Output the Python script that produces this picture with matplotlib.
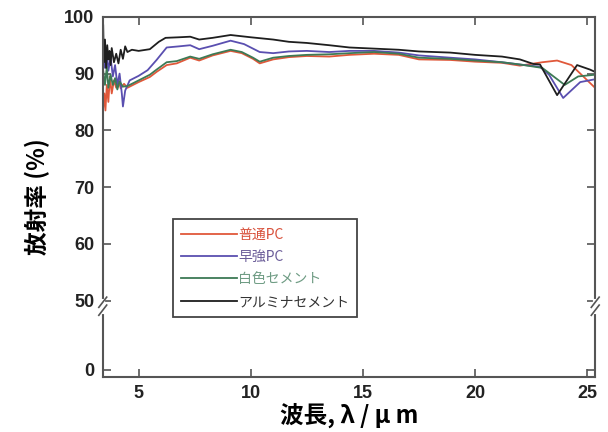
import numpy as np
import matplotlib
matplotlib.use("Agg")
import matplotlib.pyplot as plt
import matplotlib.transforms as mtransforms

plt.rcParams['font.family'] = ['Liberation Sans', 'Noto Sans CJK JP', 'DejaVu Sans']

# Data
series_names = ["普通PC", "早強PC", "白色セメント", "アルミナセメント"]

x_red = [3.42, 3.47, 3.52, 3.58, 3.65, 3.72, 3.8, 3.9, 4.0, 4.1, 4.2, 4.35, 4.5, 4.7,
         5.0, 5.5, 5.8, 6.25, 6.7, 7.3, 7.7, 8.3, 9.1, 9.6, 10.1, 10.4, 11.0, 11.7,
         12.5, 13.5, 14.4, 15.5, 16.6, 17.5, 18.9, 20.0, 21.2, 22.0, 23.0, 23.66,
         24.3, 25.35]
y_red = [84.0, 86.5, 83.5, 88.0, 85.0, 89.5, 86.5, 88.8, 87.5, 88.9, 87.4, 88.2, 87.5, 87.9,
         88.5, 89.4, 90.3, 91.5, 91.8, 92.8, 92.3, 93.2, 94.0, 93.6, 92.6, 91.8, 92.5, 92.9,
         93.1, 93.0, 93.3, 93.5, 93.3, 92.5, 92.4, 92.1, 91.9, 91.4, 92.0, 92.3,
         91.5, 87.5]

x_blue = [3.42, 3.5, 3.58, 3.65, 3.75, 3.85, 3.95, 4.05, 4.15, 4.25, 4.3, 4.4, 4.6,
          5.0, 5.4, 5.8, 6.25, 6.8, 7.3, 7.7, 8.3, 9.1, 9.7, 10.4, 11.0, 11.7,
          12.5, 13.5, 14.4, 15.5, 16.6, 17.5, 18.9, 20.0, 21.2, 22.0, 22.9, 23.3,
          23.93, 24.69, 25.35]
y_blue = [93.5, 91.0, 94.0, 90.5, 92.8, 89.5, 91.5, 88.0, 90.0, 86.5, 84.2, 87.0, 88.8,
          89.6, 90.6, 92.4, 94.6, 94.8, 95.0, 94.3, 94.9, 95.8, 95.2, 93.8, 93.6, 93.9,
          94.0, 93.8, 94.0, 94.0, 93.7, 93.2, 92.8, 92.5, 92.0, 91.6, 91.2, 89.8,
          85.7, 88.5, 89.0]

x_green = [3.42, 3.5, 3.58, 3.65, 3.75, 3.85, 3.95, 4.05, 4.15, 4.3, 4.5, 4.7,
           5.0, 5.5, 5.8, 6.25, 6.7, 7.3, 7.7, 8.3, 9.1, 9.6, 10.1, 10.4, 11.0, 11.7,
           12.5, 13.5, 14.4, 15.5, 16.6, 17.5, 18.9, 20.0, 21.2, 22.0, 23.0, 23.5,
           24.0, 24.6, 25.35]
y_green = [90.5, 88.0, 91.2, 87.5, 89.8, 88.0, 89.2, 87.2, 88.6, 87.7, 87.8, 88.2,
           88.8, 89.8, 90.7, 92.0, 92.2, 93.0, 92.6, 93.4, 94.2, 93.8, 92.8, 92.1, 92.8, 93.1,
           93.3, 93.4, 93.6, 93.8, 93.5, 92.8, 92.6, 92.3, 92.0, 91.6, 91.0, 89.5,
           88.0, 89.5, 89.8]

x_black = [3.42, 3.45, 3.5, 3.55, 3.6, 3.65, 3.7, 3.75, 3.8, 3.9, 4.0, 4.1, 4.2, 4.3,
           4.4, 4.5, 4.7, 5.0, 5.5, 5.9, 6.2, 6.8, 7.3, 7.7, 8.3, 9.1, 10.0, 11.0,
           11.7, 12.5, 13.5, 14.4, 15.5, 16.6, 17.5, 18.9, 20.0, 21.2, 22.0, 22.6,
           22.9, 23.66, 24.55, 25.13, 25.35]
y_black = [98.5, 92.0, 96.0, 91.0, 95.0, 92.5, 94.0, 91.5, 94.5, 92.0, 93.5, 91.8, 94.2, 92.6,
           94.8, 93.8, 94.2, 94.0, 94.3, 95.6, 96.3, 96.4, 96.5, 96.0, 96.3, 96.8, 96.4, 96.0,
           95.6, 95.4, 95.0, 94.6, 94.4, 94.2, 93.9, 93.7, 93.3, 93.0, 92.5, 91.7,
           91.6, 86.2, 91.5, 90.7, 90.3]

x_ticks = [5, 10, 15, 20, 25]
y_tick_labels = ["0", "50", "60", "70", "80", "90", "100"]

line_colors = ["#e0583a", "#5a4fb0", "#3d7a55", "#1e1e1e"]
text_colors = ["#d8503a", "#6a5c98", "#6f9c84", "#333333"]

# the axis is broken below 50: the 0 tick sits just under the break
y_zero_pos = 37.8
y_tick_pos = [y_zero_pos, 50, 60, 70, 80, 90, 100]

fig = plt.figure(figsize=(6.08, 4.32), dpi=100)
ax = fig.add_axes([0.169, 0.127, 0.810, 0.834])

xs = [x_red, x_blue, x_green, x_black]
ys = [y_red, y_blue, y_green, y_black]
for xv, yv, c, name in zip(xs, ys, line_colors, series_names):
    ax.plot(xv, yv, color=c, lw=1.3, label=name)

ax.set_xlim(3.4, 25.36)
ax.set_ylim(36.5, 100)
ax.set_xticks(x_ticks)
ax.set_xticklabels([str(t) for t in x_ticks])
ax.set_yticks(y_tick_pos)
ax.set_yticklabels(y_tick_labels)

ax.tick_params(direction="in", length=6, width=1.2, color="#555555",
               top=True, right=True, labelsize=13, pad=6)
for lab in ax.get_xticklabels() + ax.get_yticklabels():
    lab.set_fontweight("bold")
    lab.set_color("#222222")

for sp in ax.spines.values():
    sp.set_color("#555555")
    sp.set_linewidth(1.5)

# break marks on both vertical spines
yb = 49.0
trans = mtransforms.blended_transform_factory(ax.transAxes, ax.transData)
for xa in [0, 1]:
    ax.plot([xa, xa], [yb - 1.0, yb + 1.0], transform=trans,
            color="white", lw=3, clip_on=False, zorder=5)
    for dy in [-0.7, 0.7]:
        ax.plot([xa - 0.008, xa + 0.008], [yb + dy - 0.9, yb + dy + 0.9],
                transform=trans, color="#555555", lw=1.2, clip_on=False, zorder=6)

ax.set_xlabel("波長, λ / μ m", fontsize=17, fontweight="bold",
              family=["Noto Sans CJK JP", "DejaVu Sans"], labelpad=0)
ax.set_ylabel("放射率 (%)", fontsize=17, fontweight="bold",
              family=["Noto Sans CJK JP", "DejaVu Sans"], labelpad=10)

leg = ax.legend(loc="upper left", bbox_to_anchor=(0.142, 0.438), frameon=True,
                fancybox=False, framealpha=1, edgecolor="#444444",
                prop={"family": ["Noto Sans CJK JP", "DejaVu Sans"], "size": 10},
                handlelength=4.0, handletextpad=0.1, labelspacing=0.6,
                borderpad=0.6, borderaxespad=0)
leg.get_frame().set_linewidth(1.3)
for txt, c in zip(leg.get_texts(), text_colors):
    txt.set_color(c)

fig.savefig("out.png", dpi=100)
